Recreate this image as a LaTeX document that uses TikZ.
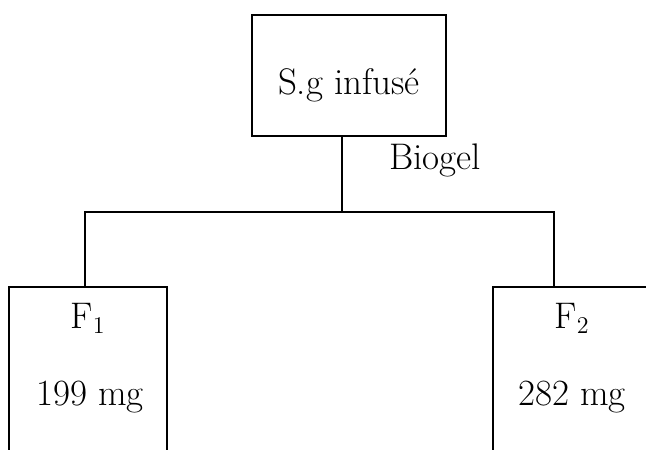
\documentclass[tikz,border=0pt]{standalone}
\begin{document}
\begin{tikzpicture}[x=0.5pt,y=-0.5pt,
  line/.style={draw=black,line width=0.7pt},
  boxframe/.style={draw=black,line width=0.7pt,rectangle,inner sep=0pt},
  lbl/.style={anchor=base,inner sep=0pt,font=\fontsize{18.5}{22}\selectfont}]
\useasboundingbox (0,0) rectangle (646,449);
\clip (0,0) rectangle (646,449);
% top box
\node[boxframe,minimum width=97pt,minimum height=60.5pt] (src) at (349,75.5) {};
\node[lbl] (srctext) at (349,95) {S.g infusé};
\node[lbl,anchor=base west] (biogel) at (389,169) {Biogel};
% junction coordinates
\coordinate (srcout) at (342,136);
\coordinate (mid) at (342,212);
\coordinate (lcorner) at (85,212);
\coordinate (rcorner) at (554,212);
\coordinate (lin) at (85,287);
\coordinate (rin) at (554,287);
% left box (open at bottom)
\coordinate (l1) at (9,460);
\coordinate (l2) at (9,287);
\coordinate (l3) at (167,287);
\coordinate (l4) at (167,460);
\draw[line] (l1) -- (l2) -- (l3) -- (l4);
% right box (cut off at right)
\coordinate (r1) at (493,460);
\coordinate (r2) at (493,287);
\coordinate (r3) at (651,287);
\coordinate (r4) at (651,460);
\draw[line] (r1) -- (r2) -- (r3) -- (r4);
% connectors
\draw[line] (srcout) -- (mid);
\draw[line] (lin) -- (lcorner) -- (rcorner) -- (rin);
% labels
\node[lbl] (f1) at (88,328) {F$_1$};
\node[lbl] (m1) at (90,405) {199 mg};
\node[lbl] (f2) at (572,328) {F$_2$};
\node[lbl] (m2) at (572,405) {282 mg};
\end{tikzpicture}
\end{document}
